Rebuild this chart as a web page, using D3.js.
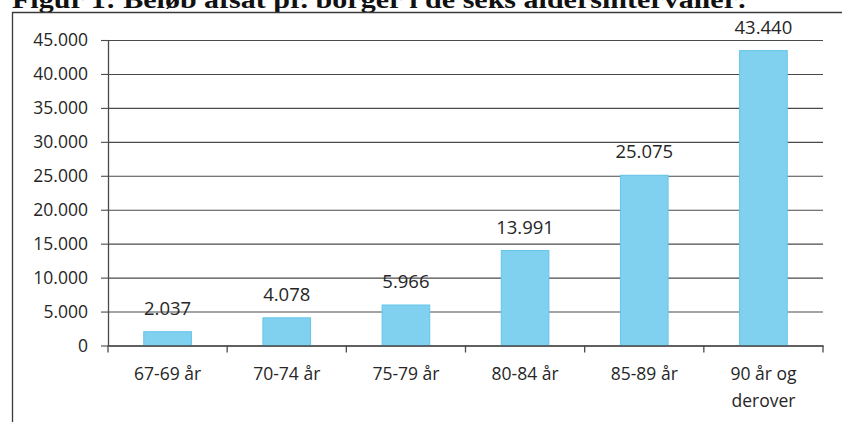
<!DOCTYPE html>
<html lang="da">
<head>
<meta charset="utf-8">
<script src="https://cdn.jsdelivr.net/npm/d3@7"></script>
<style>
  html, body { margin: 0; padding: 0; background: #fff; }
  svg { display: block; }
</style>
</head>
<body>
<svg id="chart" width="842" height="422"></svg>
<script>
// Beløb afsat pr. borger, fordelt på aldersintervaller
const titleText = "Figur 1: Beløb afsat pr. borger i de seks aldersintervaller:";
const categories = ["67-69 år", "70-74 år", "75-79 år", "80-84 år", "85-89 år", "90 år og\nderover"];
const values = [2037, 4078, 5966, 13991, 25075, 43440];
const yTicks = [0, 5000, 10000, 15000, 20000, 25000, 30000, 35000, 40000, 45000];

const locale = d3.formatLocale({ decimal: ",", thousands: ".", grouping: [3], currency: ["", " kr."] });
const fmt = locale.format(",d");

const svg = d3.select("#chart");
const W = 842, H = 422;
const plot = { left: 108, right: 823, top: 40, bottom: 345.5 };
const textFont = "'Open Sans', 'DejaVu Sans', sans-serif";
const ink = "#262626";
const lineCol = "#4a4a4a";

// Title, running off the top edge of the page
svg.append("text")
  .attr("x", 12).attr("y", 8)
  .attr("font-family", "'Liberation Serif', 'Times New Roman', serif")
  .attr("font-weight", "bold")
  .attr("font-size", 26)
  .attr("fill", "#111")
  .attr("textLength", 735)
  .attr("lengthAdjust", "spacingAndGlyphs")
  .text(titleText);

// Chart frame
svg.append("path")
  .attr("d", `M12.5,${H} V12.5 H${W}`)
  .attr("fill", "none")
  .attr("stroke", "#3a3a3a")
  .attr("stroke-width", 1.3);

const x = d3.scaleBand()
  .domain(categories)
  .range([plot.left, plot.right])
  .paddingInner(0.6)
  .paddingOuter(0.3);

const y = d3.scaleLinear()
  .domain([0, 45000])
  .range([plot.bottom, plot.top]);

// Horizontal gridlines
const grid = svg.append("g")
  .attr("transform", `translate(${plot.left},0)`)
  .call(d3.axisLeft(y).tickValues(yTicks).tickSize(-(plot.right - plot.left)).tickFormat(""));
grid.select(".domain").remove();
grid.selectAll(".tick line").attr("stroke", lineCol).attr("stroke-width", 1.1);

// Bars
svg.append("g")
  .selectAll("rect")
  .data(values)
  .join("rect")
  .attr("x", (d, i) => x(categories[i]))
  .attr("y", d => y(d))
  .attr("width", x.bandwidth())
  .attr("height", d => y(0) - y(d))
  .attr("fill", "#80d1ef")
  .attr("stroke", "#66c5ea")
  .attr("stroke-width", 1);

// Y axis with tick labels
const yAxis = svg.append("g")
  .attr("transform", `translate(${plot.left},0)`)
  .call(d3.axisLeft(y).tickValues(yTicks).tickSize(7).tickSizeOuter(0).tickPadding(13).tickFormat(fmt));
yAxis.select(".domain").attr("stroke", lineCol).attr("stroke-width", 1.3);
yAxis.selectAll(".tick line").attr("stroke", lineCol).attr("stroke-width", 1.1);
yAxis.selectAll(".tick text")
  .attr("font-family", textFont)
  .attr("font-size", 17.5)
  .attr("fill", ink);

// X axis baseline and category labels
const xAxis = svg.append("g")
  .attr("transform", `translate(0,${plot.bottom})`)
  .call(d3.axisBottom(x).tickSize(0).tickSizeOuter(0).tickPadding(0).tickFormat(""));
xAxis.select(".domain").attr("stroke", lineCol).attr("stroke-width", 1.3);

// Separator ticks between categories
const gap = (x.step() - x.bandwidth()) / 2;
const bounds = categories.map(c => x(c) - gap).concat([x(categories[categories.length - 1]) + x.bandwidth() + gap]);
xAxis.selectAll("line.sep")
  .data(bounds)
  .join("line")
  .attr("class", "sep")
  .attr("x1", d => d).attr("x2", d => d)
  .attr("y1", 0).attr("y2", 7)
  .attr("stroke", lineCol)
  .attr("stroke-width", 1.3);

xAxis.selectAll(".tick").each(function (d) {
  const t = d3.select(this).select("text")
    .text(null)
    .attr("y", 0)
    .attr("dy", null)
    .attr("font-family", textFont)
    .attr("font-size", 17.5)
    .attr("fill", ink);
  d.split("\n").forEach((line, i) => {
    t.append("tspan").attr("x", 0).attr("y", 34.5 + i * 26.5).text(line);
  });
});

// Value labels above bars
svg.append("g")
  .selectAll("text")
  .data(values)
  .join("text")
  .attr("x", (d, i) => x(categories[i]) + x.bandwidth() / 2)
  .attr("y", d => y(d) - 17)
  .attr("text-anchor", "middle")
  .attr("font-family", textFont)
  .attr("font-size", 18.5)
  .attr("fill", ink)
  .text(d => fmt(d));
</script>
</body>
</html>
